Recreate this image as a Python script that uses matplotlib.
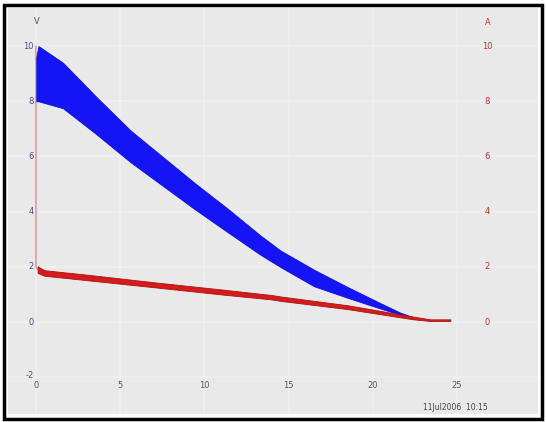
import matplotlib.pyplot as plt
from matplotlib.patches import Rectangle

# voltage band (envelope of the noisy trace)
t_v = [0.02, 0.15, 1.6, 3.6, 5.6, 7.5, 9.4, 11.4, 13.3, 14.5, 16.5, 18.5, 20.4, 21.6, 22.5]
v_top = [9.6, 10.0, 9.4, 8.15, 6.95, 6.0, 5.05, 4.1, 3.15, 2.6, 1.9, 1.27, 0.7, 0.35, 0.15]
v_bot = [8.0, 8.0, 7.75, 6.8, 5.8, 4.95, 4.1, 3.25, 2.45, 2.0, 1.3, 0.88, 0.5, 0.27, 0.12]

# current trace (centre of the band)
t_a = [0.1, 0.5, 3.3, 7.2, 11.2, 14.0, 14.5, 18.5, 22.4, 23.4, 24.6]
a_mid = [1.9, 1.78, 1.6, 1.34, 1.08, 0.9, 0.85, 0.54, 0.15, 0.07, 0.07]
a_half = [0.12, 0.1, 0.1, 0.09, 0.09, 0.08, 0.08, 0.07, 0.05, 0.03, 0.03]

x_ticks = [0, 5, 10, 15, 20, 25]
y_ticks = [0, 2, 4, 6, 8, 10]
stamp = "11Jul2006  10:15"

fig = plt.figure(figsize=(5.46, 4.22), dpi=100)
ax = fig.add_axes([8 / 546, 8 / 422, 530 / 546, 406 / 422])
ax.set_facecolor("#e9e9e9")
ax.set_xlim(-1.66, 29.8)
ax.set_ylim(-3.33, 11.38)
for s in ax.spines.values():
    s.set_visible(False)
ax.set_xticks([])
ax.set_yticks([])

# faint grid
for x in x_ticks:
    ax.axvline(x, color="#f0f0f0", lw=1.2, zorder=0)
for y in y_ticks + [-2]:
    ax.axhline(y, color="#f0f0f0", lw=1.2, zorder=0)

# current spike at switch-on
ax.plot([0.0, 0.0, 0.1], [10.0, 2.0, 1.9], color="#c05050", lw=1, alpha=0.6, zorder=2)

# voltage band
ax.fill_between(t_v, v_bot, v_top, color="#1414f5", lw=0.6, edgecolor="#1010d0", zorder=3)

# current band
a_lo = [m - h for m, h in zip(a_mid, a_half)]
a_hi = [m + h for m, h in zip(a_mid, a_half)]
ax.fill_between(t_a, a_lo, a_hi, color="#d41c1c", lw=0.6, edgecolor="#b01010", zorder=4)

# tick labels drawn inside the plot
for x in x_ticks:
    ax.text(x, -2.3, str(x), ha="center", va="center", fontsize=6, color="#555555")
for y in y_ticks:
    ax.text(-0.15, y, str(y), ha="right", va="center", fontsize=6, color="#4a4a90")
    ax.text(26.8, y, str(y), ha="center", va="center", fontsize=6, color="#c03030")
ax.text(-0.15, -1.95, "-2", ha="right", va="center", fontsize=6, color="#555555")
ax.text(0.05, 10.9, "V", ha="center", va="center", fontsize=6, color="#555555")
ax.text(26.8, 10.85, "A", ha="center", va="center", fontsize=6, color="#c03030")
ax.text(26.8, -3.08, stamp, ha="right", va="center", fontsize=5.5, color="#444444")

# black frame around the picture
fig.patches.append(Rectangle((4 / 546, 3 / 422), 538 / 546, 414 / 422, transform=fig.transFigure,
                             fill=False, edgecolor="black", lw=2.5))

fig.savefig("out.png", dpi=100, facecolor="white")
